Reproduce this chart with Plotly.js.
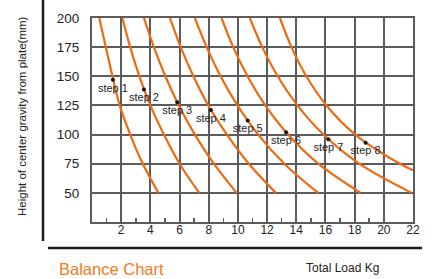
<!DOCTYPE html>
<html>
<head>
<meta charset="utf-8">
<script src="https://cdn.plot.ly/plotly-3.0.1.min.js"></script>
<style>
  html, body { margin: 0; padding: 0; background: #ffffff; }
  #chart { width: 437px; height: 279px; }
</style>
</head>
<body>
<div id="chart"></div>
<script>
// ---- Data ----
const heights = [200, 175, 150, 125, 100, 75, 50];           // mm
const load1 = [0.5, 0.95, 1.4, 1.9, 2.62, 3.48, 4.55];       // kg
const load2 = [2.08, 2.62, 3.25, 4.0, 4.93, 6.0, 7.35];
const load3 = [3.56, 4.24, 5.03, 5.95, 7.05, 8.35, 9.91];
const load4 = [5.34, 6.08, 6.95, 7.97, 9.25, 10.75, 12.6];
const load5 = [7.05, 7.86, 8.81, 9.97, 11.39, 13.18, 15.5];
const load6 = [8.88, 9.68, 10.66, 11.88, 13.44, 15.51, 18.4];
const load7 = [10.82, 11.67, 12.73, 14.08, 15.86, 18.31, 21.9];
const load8 = [12.88, 13.67, 14.69, 16.07, 18.04, 21.1, 22];
const heights8 = [200, 175, 150, 125, 100, 75, 69.5];

const stepLabels = ['step 1', 'step 2', 'step 3', 'step 4', 'step 5', 'step 6', 'step 7', 'step 8'];
const stepLoads = [1.43, 3.56, 5.84, 8.15, 10.67, 13.3, 16.2, 18.75];
const stepHeights = [147, 138.7, 127.8, 121, 112, 102, 96, 93];

const xTickVals = [2, 4, 6, 8, 10, 12, 14, 16, 18, 20, 22];
const xTickText = ['2', '4', '6', '8', '10', '12', '14', '16', '18', '20', '22'];
const xMinorTicks = [1, 3, 5, 7, 9, 11, 13, 15, 17, 19];
const yTickVals = [50, 75, 100, 125, 150, 175, 200];
const yTickText = ['50', '75', '100', '125', '150', '175', '200'];

const yTitle = 'Height of center gravity from plate(mm)';
const chartName = 'Balance Chart';
const xTitle = 'Total Load Kg';

// ---- Styling ----
const ORANGE = '#EE6A12';
const GRID = '#5c5c5c';
const FONT = 'Liberation Sans, Arial, Helvetica, sans-serif';

const curves = [
  [load1, heights], [load2, heights], [load3, heights], [load4, heights],
  [load5, heights], [load6, heights], [load7, heights], [load8, heights8]
];

const traces = curves.map(function (c) {
  return {
    type: 'scatter', mode: 'lines', x: c[0], y: c[1],
    line: { color: ORANGE, width: 2.2, shape: 'spline', smoothing: 1 },
    hoverinfo: 'skip', showlegend: false
  };
});

traces.push({
  type: 'scatter', mode: 'markers+text',
  x: stepLoads, y: stepHeights, text: stepLabels,
  textposition: 'bottom center',
  textfont: { family: FONT, size: 11, color: '#222222' },
  marker: { color: '#111111', size: 4 },
  hoverinfo: 'skip', showlegend: false, cliponaxis: false
});

const W = 437, H = 279;
const L = 92, R = 24, T = 18, B = 57;
const pw = W - L - R, ph = H - T - B;
function px(x) { return (x - L) / pw; }
function py(y) { return (H - B - y) / ph; }

const layout = {
  width: W, height: H,
  margin: { l: L, r: R, t: T, b: B, pad: 0 },
  paper_bgcolor: '#ffffff', plot_bgcolor: '#ffffff',
  font: { family: FONT, color: '#222222' },
  xaxis: {
    range: [0, 22], tickmode: 'array', tickvals: xTickVals, ticktext: xTickText,
    showgrid: true, gridcolor: GRID, gridwidth: 2,
    showline: true, linecolor: GRID, linewidth: 2, mirror: true,
    zeroline: false, ticks: '', ticklabelstandoff: -4,
    tickfont: { family: FONT, size: 12, color: '#222222' },
    minor: { tickmode: 'array', tickvals: xMinorTicks, ticks: 'inside', ticklen: 4, tickwidth: 1.5, tickcolor: GRID, showgrid: false },
    fixedrange: true
  },
  yaxis: {
    range: [25, 200], tickmode: 'array', tickvals: yTickVals, ticktext: yTickText,
    showgrid: true, gridcolor: GRID, gridwidth: 2,
    showline: true, linecolor: GRID, linewidth: 2, mirror: true,
    zeroline: false, ticks: '', ticklabelstandoff: 8,
    tickfont: { family: FONT, size: 13.5, color: '#222222' },
    fixedrange: true
  },
  shapes: [
    { type: 'line', xref: 'paper', yref: 'paper', x0: px(43), x1: px(43), y0: py(0), y1: py(241),
      line: { color: '#1a1a1a', width: 2.5 } },
    { type: 'line', xref: 'paper', yref: 'paper', x0: px(48), x1: px(422), y0: py(248), y1: py(248),
      line: { color: '#1a1a1a', width: 2.5 } }
  ],
  annotations: [
    { xref: 'paper', yref: 'paper', x: px(22), y: py(116), text: yTitle, showarrow: false,
      textangle: -90, xanchor: 'center', yanchor: 'middle',
      font: { family: FONT, size: 11.5, color: '#222222' } },
    { xref: 'paper', yref: 'paper', x: px(57), y: py(269), text: chartName, showarrow: false,
      xanchor: 'left', yanchor: 'middle',
      font: { family: FONT, size: 16.5, color: '#F47B20' } },
    { xref: 'paper', yref: 'paper', x: px(304), y: py(268), text: xTitle, showarrow: false,
      xanchor: 'left', yanchor: 'middle',
      font: { family: FONT, size: 12, color: '#222222' } }
  ]
};

Plotly.newPlot('chart', traces, layout, { staticPlot: true, displayModeBar: false });
</script>
</body>
</html>
